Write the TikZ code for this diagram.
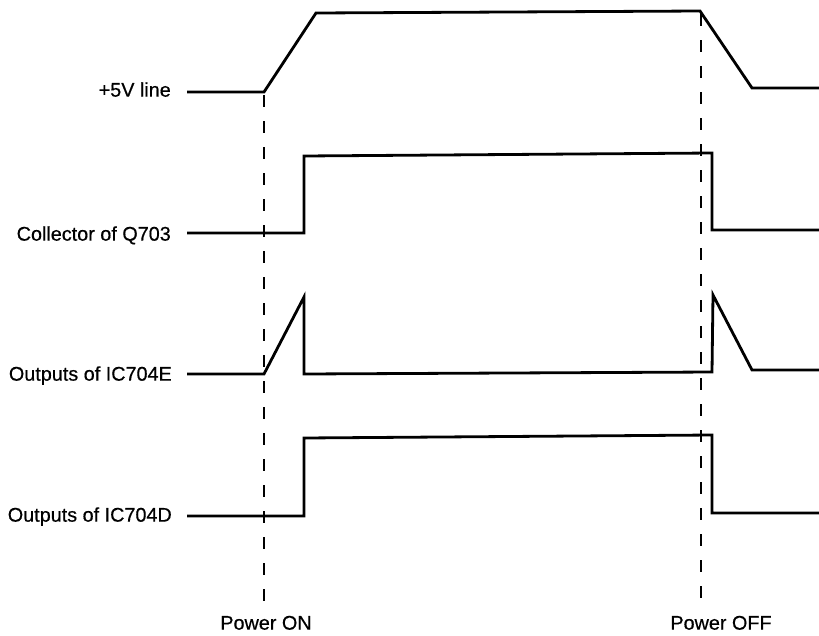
\documentclass[tikz,border=0pt]{standalone}
\usepackage{fontspec}
\setmainfont{Liberation Sans}
\newfontfamily\lblfont[FakeBold=0.5]{Liberation Sans}
\begin{document}
\begin{tikzpicture}[x=1pt,y=-1pt,
  wave/.style={line width=2.8pt,line join=miter},
  guide/.style={line width=1.8pt,dash pattern=on 12pt off 14pt},
  lbl/.style={font=\lblfont\fontsize{19.8}{22}\selectfont,inner sep=0pt,anchor=mid east},
  evt/.style={font=\lblfont\fontsize{19.8}{22}\selectfont,inner sep=0pt,anchor=mid}]
\useasboundingbox (0,0) rectangle (819,635);
% labels
\node[lbl] (l5v) at (171,94) {+5V line};
\node[lbl] (lq)  at (171,238) {Collector of Q703};
\node[lbl] (le)  at (172,378) {Outputs of IC704E};
\node[lbl] (ld)  at (172,519) {Outputs of IC704D};
\node[evt] (pon)  at (266,627) {Power ON};
\node[evt] (poff) at (721,627) {Power OFF};
% guide ends
\coordinate (onT) at (264,95);
\coordinate (onB) at (264,601);
\coordinate (offT) at (701,14);
\coordinate (offB) at (701,601);
\draw[guide] (onT) -- (onB);
\draw[guide] (offT) -- (offB);
% waveforms
\draw[wave] (187,92) -- (264,92) -- (316,13) -- (700,11) -- (752,88) -- (819,88);
\draw[wave] (187,233) -- (304,233) -- (304,156) -- (712,153) -- (712,230) -- (819,230);
\draw[wave] (187,374) -- (264,374) -- (304,297) -- (304,374) -- (712,372) -- (713,295) -- (752,370) -- (819,370);
\draw[wave] (187,516) -- (304,516) -- (304,438) -- (712,435) -- (712,513) -- (819,513);
\end{tikzpicture}
\end{document}
